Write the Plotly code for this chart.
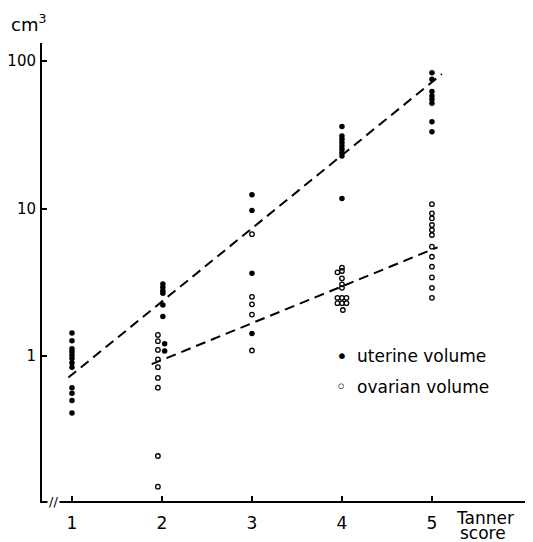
import plotly.graph_objects as go

# Tanner score groups and volumes (cm3)
uterine_x = [1]*12 + [2]*8 + [3]*4 + [4]*9 + [5]*8
uterine_y = [1.43, 1.27, 1.12, 1.07, 1.01, 0.96, 0.90, 0.84, 0.61, 0.56, 0.50, 0.41,
             3.08, 2.92, 2.77, 2.66, 2.22, 1.85, 1.21, 1.08,
             12.4, 9.7, 3.64, 1.42,
             35.9, 31.0, 29.5, 27.9, 26.5, 25.2, 23.9, 22.7, 11.7,
             83.3, 75.2, 62.0, 57.9, 55.0, 51.7, 38.8, 33.2]
uterine_dx = [0]*12 + [0.01, 0.01, 0.01, 0.01, 0.01, 0.01, 0.03, 0.03] + [0]*4 + [0]*9 + [0]*8

ovarian_x = [2]*9 + [3]*5 + [4]*13 + [5]*12
ovarian_y = [1.39, 1.26, 1.10, 0.95, 0.84, 0.71, 0.61, 0.21, 0.13,
             6.7, 2.52, 2.24, 1.91, 1.09,
             3.97, 3.77, 3.69, 3.36, 3.06, 2.90, 2.48, 2.48, 2.48, 2.28, 2.28, 2.28, 2.05,
             10.7, 9.27, 8.58, 7.73, 7.15, 6.61, 5.51, 4.71, 4.03, 3.41, 2.90, 2.48]
ovarian_dx = [-0.045]*9 + [0]*5 + \
             [0, 0, -0.05, 0, 0, 0, -0.05, 0, 0.05, -0.05, 0, 0.05, 0.01] + [0]*12

# regression line endpoints
uterine_fit_x = [0.96, 5.11]
uterine_fit_y = [0.714, 81.6]
ovarian_fit_x = [1.886, 5.063]
ovarian_fit_y = [0.88, 5.46]

x_ticks = [1, 2, 3, 4, 5]
y_ticks = [1, 10, 100]

FONT = "DejaVu Sans"

fig = go.Figure()
fig.add_trace(go.Scatter(x=uterine_fit_x, y=uterine_fit_y, mode="lines",
                         line=dict(color="black", width=2, dash="10px,6px"),
                         showlegend=False, hoverinfo="skip"))
fig.add_trace(go.Scatter(x=ovarian_fit_x, y=ovarian_fit_y, mode="lines",
                         line=dict(color="black", width=2, dash="10px,6px"),
                         showlegend=False, hoverinfo="skip"))
fig.add_trace(go.Scatter(x=[a + b for a, b in zip(uterine_x, uterine_dx)], y=uterine_y,
                         mode="markers", marker=dict(symbol="circle", size=5.5, color="black"),
                         showlegend=False))
fig.add_trace(go.Scatter(x=[a + b for a, b in zip(ovarian_x, ovarian_dx)], y=ovarian_y,
                         mode="markers",
                         marker=dict(symbol="circle-open", size=4.5, color="black",
                                     line=dict(width=1.3, color="black")),
                         showlegend=False))

fig.update_layout(
    width=525, height=534,
    margin=dict(l=34, r=0, t=35, b=41, autoexpand=False),
    paper_bgcolor="white", plot_bgcolor="white",
    font=dict(family=FONT, size=17, color="black"),
    xaxis=dict(range=[0.667, 6.123], tickvals=x_ticks, ticktext=[str(v) for v in x_ticks],
               showgrid=False, zeroline=False, showline=True, linecolor="black", linewidth=2,
               ticks="inside", ticklen=5, tickwidth=1.5, tickcolor="black",
               ticklabelstandoff=6, automargin=False),
    yaxis=dict(type="log", range=[-0.983, 2.122], tickvals=y_ticks,
               ticktext=[str(v) for v in y_ticks], tickfont=dict(size=15),
               showgrid=False, zeroline=False, showline=True, linecolor="black", linewidth=2,
               ticks="inside", ticklen=5, tickwidth=1.5, tickcolor="black",
               ticklabelstandoff=1, automargin=False),
)

ann = [
    dict(text="cm<sup>3</sup>", x=0, y=1.0, xref="paper", yref="paper", xshift=-33, yshift=20,
         xanchor="left", yanchor="middle", showarrow=False, font=dict(size=18)),
    dict(text="Tanner", x=5.59, y=0, xref="x", yref="paper", yshift=-17,
         xanchor="center", yanchor="middle", showarrow=False, font=dict(size=17)),
    dict(text="score", x=5.57, y=0, xref="x", yref="paper", yshift=-32,
         xanchor="center", yanchor="middle", showarrow=False, font=dict(size=17)),
    dict(text="•", x=4.0, y=0, xref="x", yref="y", xanchor="center", yanchor="middle",
         showarrow=False, font=dict(size=20)),
    dict(text="uterine volume", x=4.145, y=0, xref="x", yref="y", xanchor="left",
         yanchor="middle", showarrow=False, font=dict(size=17)),
    dict(text="◦", x=4.0, y=-0.21, xref="x", yref="y", xanchor="center", yanchor="middle",
         showarrow=False, font=dict(size=18)),
    dict(text="ovarian volume", x=4.145, y=-0.21, xref="x", yref="y", xanchor="left",
         yanchor="middle", showarrow=False, font=dict(size=17)),
    dict(text="//", x=0.79, y=0, xref="x", yref="paper", xanchor="center", yanchor="middle",
         showarrow=False, font=dict(size=13), bgcolor="white"),
]
fig.update_layout(annotations=ann)

fig.write_html("out.html")
